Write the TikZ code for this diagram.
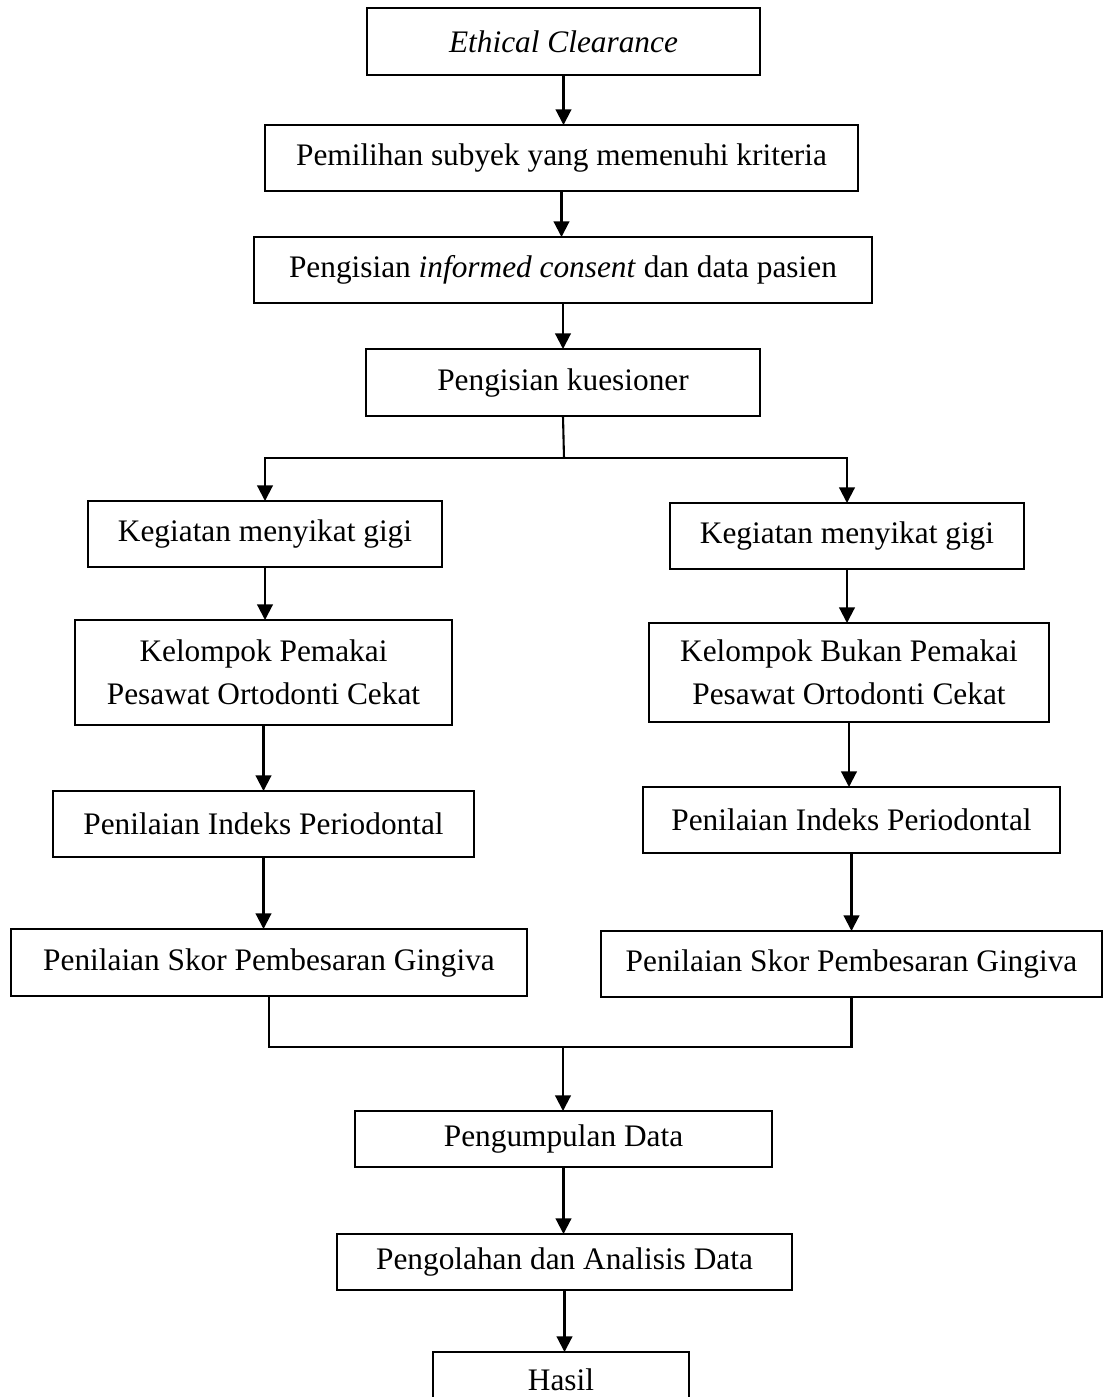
\documentclass[tikz,border=0pt]{standalone}
\usepackage{fontspec}
\setmainfont{Liberation Serif}
\usetikzlibrary{arrows.meta}
\newdimen\pxu
\pxu=0.383pt

\tikzset{
  box/.style={draw, line width=0.8pt, inner sep=0pt, outer sep=0pt,
              align=center, font=\fontsize{12}{16.5}\selectfont},
  flow/.style={line width=0.8pt, -{Triangle[length=6pt,width=6pt]}},
  link/.style={line width=0.8pt}
}

\begin{document}
\begin{tikzpicture}[x=0.383pt, y=-0.383pt]
  \useasboundingbox (0,0) rectangle (1103,1397);
  % main column, top part
  \node[box, minimum width=393\pxu, minimum height=67\pxu] (EC) at (563.5,41.5) {\textit{Ethical Clearance}};
  \node[box, minimum width=593\pxu, minimum height=66\pxu] (PS) at (561.5,158) {Pemilihan subyek yang memenuhi kriteria};
  \node[box, minimum width=618\pxu, minimum height=66\pxu] (IC) at (563,270) {Pengisian \textit{informed consent} dan data pasien};
  \node[box, minimum width=394\pxu, minimum height=67\pxu] (KU) at (563,382.5) {Pengisian kuesioner};
  % two groups
  \node[box, minimum width=354\pxu, minimum height=66\pxu] (SGL) at (265,534) {Kegiatan menyikat gigi};
  \node[box, minimum width=354\pxu, minimum height=66\pxu] (SGR) at (847,536) {Kegiatan menyikat gigi};
  \node[box, minimum width=377\pxu, minimum height=105\pxu] (KL) at (263.5,672.5) {Kelompok Pemakai\\Pesawat Ortodonti Cekat};
  \node[box, minimum width=400\pxu, minimum height=99\pxu] (KR) at (849,672.5) {Kelompok Bukan Pemakai\\Pesawat Ortodonti Cekat};
  \node[box, minimum width=421\pxu, minimum height=66\pxu] (IL) at (263.5,824) {Penilaian Indeks Periodontal};
  \node[box, minimum width=417\pxu, minimum height=66\pxu] (IR) at (851.5,820) {Penilaian Indeks Periodontal};
  \node[box, minimum width=516\pxu, minimum height=67\pxu] (GL) at (269,962.5) {Penilaian Skor Pembesaran Gingiva};
  \node[box, minimum width=501\pxu, minimum height=66\pxu] (GR) at (851.5,964) {Penilaian Skor Pembesaran Gingiva};
  % main column, bottom part
  \node[box, minimum width=417\pxu, minimum height=56\pxu] (PD) at (563.5,1139) {Pengumpulan Data};
  \node[box, minimum width=455\pxu, minimum height=56\pxu] (AD) at (564.5,1262) {Pengolahan dan Analisis Data};
  \node[box, minimum width=256\pxu, minimum height=56\pxu] (H) at (561,1380) {Hasil};

  \coordinate (split) at (564,458);
  \coordinate (merge) at (563,1047);

  \draw[flow] (EC.south) -- (EC.south |- PS.north);
  \draw[flow] (PS.south) -- (PS.south |- IC.north);
  \draw[flow] (IC.south) -- (IC.south |- KU.north);
  \draw[link] (KU.south) -- (split);
  \draw[flow] (split) -| (SGL.north);
  \draw[flow] (split) -| (SGR.north);
  \draw[flow] (SGL.south) -- (SGL.south |- KL.north);
  \draw[flow] (SGR.south) -- (SGR.south |- KR.north);
  \draw[flow] (KL.south) -- (KL.south |- IL.north);
  \draw[flow] (KR.south) -- (KR.south |- IR.north);
  \draw[flow] (IL.south) -- (IL.south |- GL.north);
  \draw[flow] (IR.south) -- (IR.south |- GR.north);
  \draw[link] (GL.south) |- (merge) -| (GR.south);
  \draw[flow] (merge) -- (merge |- PD.north);
  \draw[flow] (PD.south) -- (PD.south |- AD.north);
  \draw[flow] (AD.south) -- (AD.south |- H.north);
\end{tikzpicture}
\end{document}
